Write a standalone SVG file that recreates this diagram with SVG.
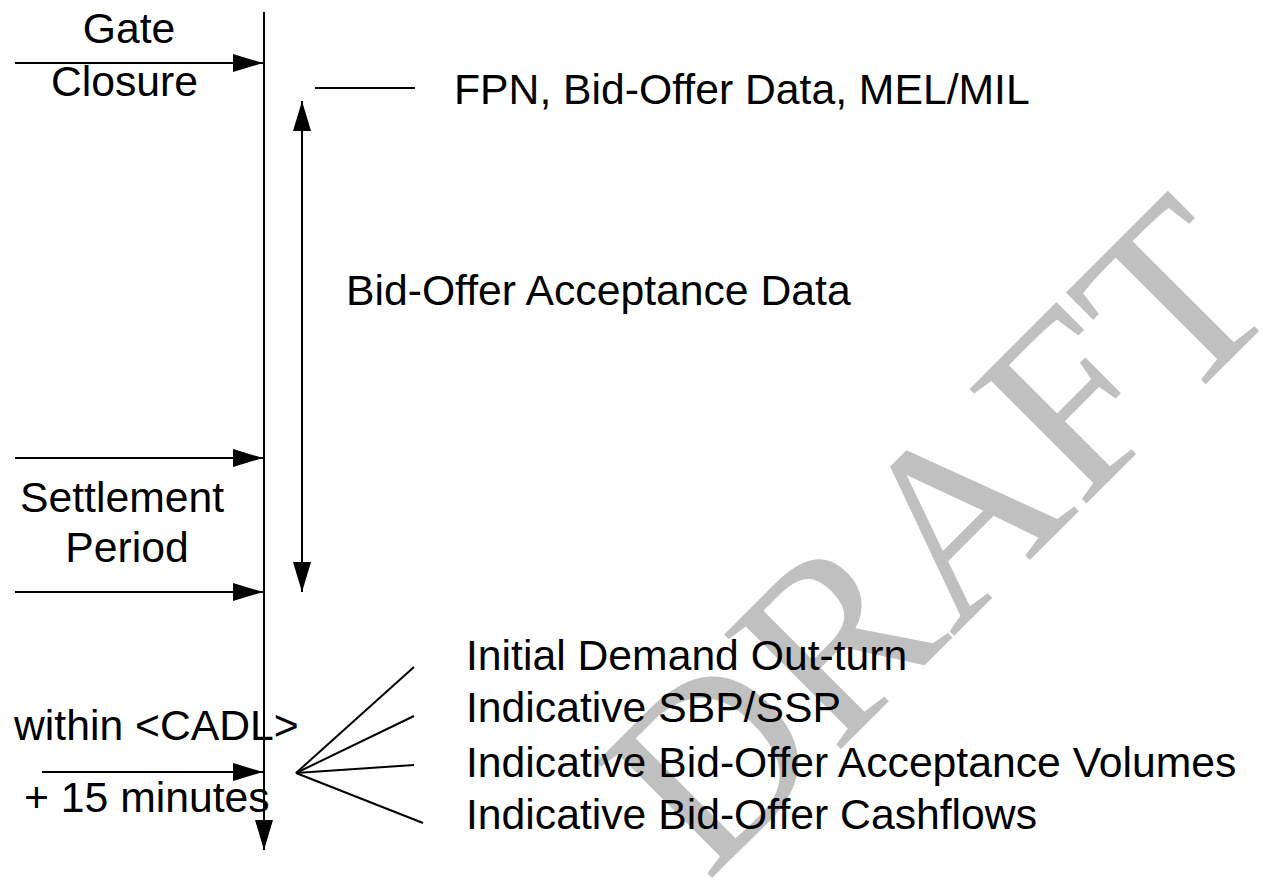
<svg xmlns="http://www.w3.org/2000/svg" width="1263" height="893" viewBox="0 0 1263 893">
<style>
.ln{stroke:#000;stroke-width:2;fill:none}
.t{font-family:"Liberation Sans",Arial,sans-serif;font-size:42.7px;fill:#000}
.wm{font-family:"Liberation Serif","Times New Roman",serif;font-size:250px;fill:#c0c0c0}
</style>
<defs>
<marker id="ah" markerWidth="30" markerHeight="20" refX="30" refY="10" orient="auto-start-reverse" markerUnits="userSpaceOnUse" viewBox="0 0 30 20">
<path d="M0,1 L30,10 L0,19 Z" fill="#000"/>
</marker>
</defs>
<rect width="1263" height="893" fill="#fff"/>
<g id="watermark">
<text class="wm" transform="translate(707,883) rotate(-45)">DRAFT</text>
</g>
<g id="connectors">
<line class="ln" x1="264" y1="12" x2="264" y2="850" marker-end="url(#ah)"/>
<line class="ln" x1="15" y1="63" x2="263" y2="63" marker-end="url(#ah)"/>
<line class="ln" x1="15" y1="458" x2="263" y2="458" marker-end="url(#ah)"/>
<line class="ln" x1="15" y1="592" x2="263" y2="592" marker-end="url(#ah)"/>
<line class="ln" x1="42" y1="772" x2="263" y2="772" marker-end="url(#ah)"/>
<line class="ln" x1="302" y1="101" x2="302" y2="592" marker-start="url(#ah)" marker-end="url(#ah)"/>
<line class="ln" x1="315" y1="88" x2="415" y2="88"/>
<line class="ln" x1="296" y1="773" x2="414" y2="667"/>
<line class="ln" x1="296" y1="773" x2="414" y2="716"/>
<line class="ln" x1="296" y1="773" x2="414" y2="765"/>
<line class="ln" x1="296" y1="773" x2="423" y2="823"/>
</g>
<g id="gate-closure">
<text class="t" x="129" y="43" text-anchor="middle">Gate</text>
<text class="t" x="124.5" y="96" text-anchor="middle">Closure</text>
</g>
<g id="fpn">
<text class="t" x="454" y="104">FPN, Bid-Offer Data, MEL/MIL</text>
</g>
<g id="boad">
<text class="t" x="346" y="305">Bid-Offer Acceptance Data</text>
</g>
<g id="settlement-period">
<text class="t" x="122" y="512" text-anchor="middle">Settlement</text>
<text class="t" x="127" y="562" text-anchor="middle">Period</text>
</g>
<g id="cadl">
<text class="t" x="14" y="740">within &lt;CADL&gt;</text>
<text class="t" x="24" y="812">+ 15 minutes</text>
</g>
<g id="outputs">
<text class="t" x="466" y="670">Initial Demand Out-turn</text>
<text class="t" x="466" y="722">Indicative SBP/SSP</text>
<text class="t" x="466" y="777">Indicative Bid-Offer Acceptance Volumes</text>
<text class="t" x="466" y="829">Indicative Bid-Offer Cashflows</text>
</g>
</svg>
